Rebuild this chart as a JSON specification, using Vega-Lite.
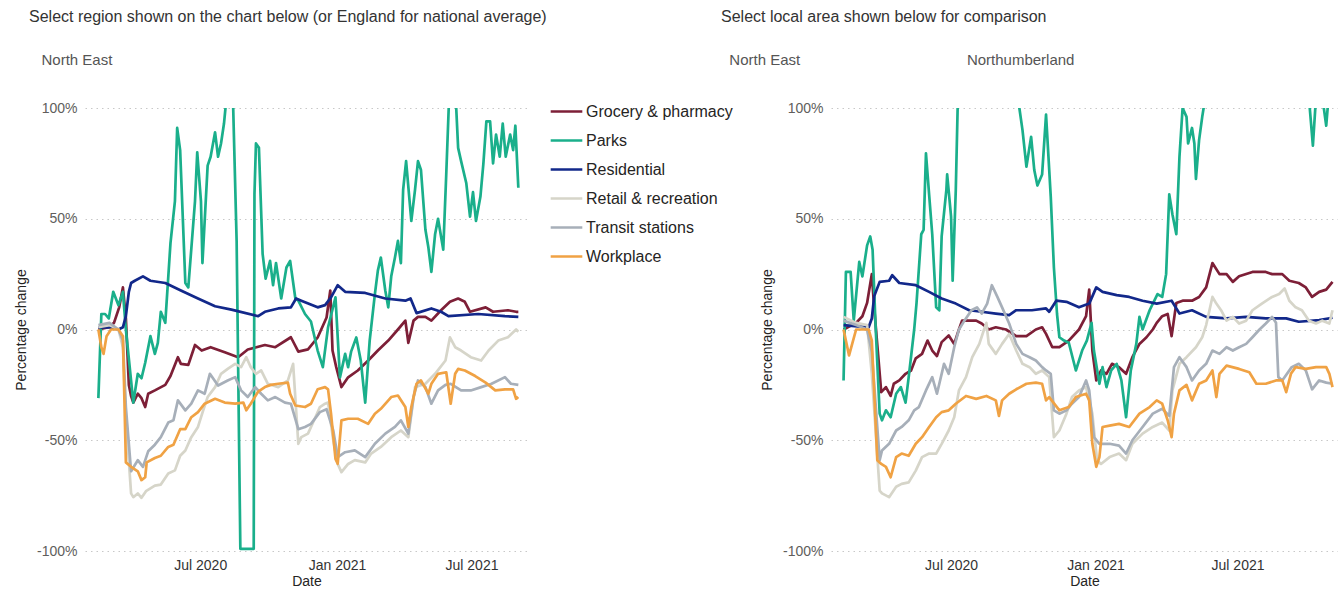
{
  "$schema": "https://vega.github.io/schema/vega-lite/v6.json",
  "background": "white",
  "padding": {"left": 14, "top": 9, "right": 0, "bottom": 0},
  "spacing": -12,
  "config": {
    "font": "Liberation Sans",
    "view": {"stroke": null},
    "axis": {"domain": false, "ticks": false, "labelFont": "Liberation Sans", "labelFontSize": 14, "labelColor": "#605e5c", "titleFont": "Liberation Sans", "titleFontSize": 14, "titleFontWeight": "normal", "titleColor": "#252423"},
    "title": {"font": "Liberation Sans", "fontSize": 16, "fontWeight": "normal", "color": "#333333", "subtitleFont": "Liberation Sans", "subtitleFontSize": 15, "subtitleColor": "#555555", "subtitlePadding": 28, "anchor": "start", "frame": "group"}
  },
  "resolve": {"scale": {"color": "independent"}},
  "datasets": {
    "L": [
      {"date":"2020-02-15","cat":"Grocery & pharmacy","value":0},
      {"date":"2020-02-29","cat":"Grocery & pharmacy","value":1},
      {"date":"2020-03-07","cat":"Grocery & pharmacy","value":3},
      {"date":"2020-03-14","cat":"Grocery & pharmacy","value":10},
      {"date":"2020-03-19","cat":"Grocery & pharmacy","value":19},
      {"date":"2020-03-23","cat":"Grocery & pharmacy","value":5},
      {"date":"2020-03-27","cat":"Grocery & pharmacy","value":-25},
      {"date":"2020-03-30","cat":"Grocery & pharmacy","value":-30},
      {"date":"2020-04-02","cat":"Grocery & pharmacy","value":-33},
      {"date":"2020-04-08","cat":"Grocery & pharmacy","value":-29},
      {"date":"2020-04-13","cat":"Grocery & pharmacy","value":-31},
      {"date":"2020-04-18","cat":"Grocery & pharmacy","value":-35},
      {"date":"2020-04-22","cat":"Grocery & pharmacy","value":-29},
      {"date":"2020-05-01","cat":"Grocery & pharmacy","value":-27.5},
      {"date":"2020-05-15","cat":"Grocery & pharmacy","value":-25},
      {"date":"2020-05-22","cat":"Grocery & pharmacy","value":-21},
      {"date":"2020-06-01","cat":"Grocery & pharmacy","value":-12.5},
      {"date":"2020-06-05","cat":"Grocery & pharmacy","value":-15.5},
      {"date":"2020-06-15","cat":"Grocery & pharmacy","value":-16},
      {"date":"2020-06-24","cat":"Grocery & pharmacy","value":-7},
      {"date":"2020-07-03","cat":"Grocery & pharmacy","value":-9.5},
      {"date":"2020-07-15","cat":"Grocery & pharmacy","value":-8},
      {"date":"2020-08-03","cat":"Grocery & pharmacy","value":-10.3},
      {"date":"2020-08-21","cat":"Grocery & pharmacy","value":-12.5},
      {"date":"2020-09-03","cat":"Grocery & pharmacy","value":-9},
      {"date":"2020-09-26","cat":"Grocery & pharmacy","value":-7},
      {"date":"2020-10-10","cat":"Grocery & pharmacy","value":-8},
      {"date":"2020-10-31","cat":"Grocery & pharmacy","value":-3.5},
      {"date":"2020-11-10","cat":"Grocery & pharmacy","value":-10},
      {"date":"2020-11-23","cat":"Grocery & pharmacy","value":-9},
      {"date":"2020-12-06","cat":"Grocery & pharmacy","value":-3.6},
      {"date":"2020-12-18","cat":"Grocery & pharmacy","value":5.4},
      {"date":"2020-12-23","cat":"Grocery & pharmacy","value":17.6},
      {"date":"2020-12-26","cat":"Grocery & pharmacy","value":-9.5},
      {"date":"2020-12-31","cat":"Grocery & pharmacy","value":-17},
      {"date":"2021-01-07","cat":"Grocery & pharmacy","value":-26},
      {"date":"2021-01-16","cat":"Grocery & pharmacy","value":-21.6},
      {"date":"2021-01-29","cat":"Grocery & pharmacy","value":-18.5},
      {"date":"2021-02-12","cat":"Grocery & pharmacy","value":-14},
      {"date":"2021-02-25","cat":"Grocery & pharmacy","value":-9.5},
      {"date":"2021-03-11","cat":"Grocery & pharmacy","value":-5},
      {"date":"2021-03-24","cat":"Grocery & pharmacy","value":0},
      {"date":"2021-04-03","cat":"Grocery & pharmacy","value":4},
      {"date":"2021-04-07","cat":"Grocery & pharmacy","value":-6},
      {"date":"2021-04-14","cat":"Grocery & pharmacy","value":4},
      {"date":"2021-04-20","cat":"Grocery & pharmacy","value":5.7},
      {"date":"2021-04-30","cat":"Grocery & pharmacy","value":5.7},
      {"date":"2021-05-08","cat":"Grocery & pharmacy","value":4},
      {"date":"2021-05-21","cat":"Grocery & pharmacy","value":8.7},
      {"date":"2021-06-02","cat":"Grocery & pharmacy","value":12.5},
      {"date":"2021-06-13","cat":"Grocery & pharmacy","value":14},
      {"date":"2021-06-22","cat":"Grocery & pharmacy","value":12.5},
      {"date":"2021-06-29","cat":"Grocery & pharmacy","value":8},
      {"date":"2021-07-20","cat":"Grocery & pharmacy","value":10},
      {"date":"2021-07-30","cat":"Grocery & pharmacy","value":8},
      {"date":"2021-08-19","cat":"Grocery & pharmacy","value":8.7},
      {"date":"2021-08-30","cat":"Grocery & pharmacy","value":8},
      {"date":"2021-09-02","cat":"Grocery & pharmacy","value":8},

      {"date":"2020-02-15","cat":"Parks","value":-31},
      {"date":"2020-02-19","cat":"Parks","value":7},
      {"date":"2020-02-24","cat":"Parks","value":7},
      {"date":"2020-02-29","cat":"Parks","value":5},
      {"date":"2020-03-06","cat":"Parks","value":17},
      {"date":"2020-03-13","cat":"Parks","value":11},
      {"date":"2020-03-19","cat":"Parks","value":17},
      {"date":"2020-03-23","cat":"Parks","value":0},
      {"date":"2020-04-02","cat":"Parks","value":-33},
      {"date":"2020-04-08","cat":"Parks","value":-20},
      {"date":"2020-04-13","cat":"Parks","value":-22},
      {"date":"2020-04-18","cat":"Parks","value":-15},
      {"date":"2020-04-25","cat":"Parks","value":-3},
      {"date":"2020-05-01","cat":"Parks","value":-11},
      {"date":"2020-05-05","cat":"Parks","value":-6},
      {"date":"2020-05-09","cat":"Parks","value":8},
      {"date":"2020-05-15","cat":"Parks","value":3},
      {"date":"2020-05-22","cat":"Parks","value":39},
      {"date":"2020-05-28","cat":"Parks","value":58},
      {"date":"2020-05-31","cat":"Parks","value":91},
      {"date":"2020-06-04","cat":"Parks","value":81},
      {"date":"2020-06-11","cat":"Parks","value":21},
      {"date":"2020-06-15","cat":"Parks","value":19},
      {"date":"2020-06-24","cat":"Parks","value":58},
      {"date":"2020-06-27","cat":"Parks","value":80},
      {"date":"2020-07-02","cat":"Parks","value":58},
      {"date":"2020-07-04","cat":"Parks","value":30},
      {"date":"2020-07-11","cat":"Parks","value":74},
      {"date":"2020-07-15","cat":"Parks","value":78},
      {"date":"2020-07-21","cat":"Parks","value":89},
      {"date":"2020-07-25","cat":"Parks","value":78},
      {"date":"2020-07-29","cat":"Parks","value":84},
      {"date":"2020-08-02","cat":"Parks","value":93},
      {"date":"2020-08-04","cat":"Parks","value":100},
      {"date":"2020-08-07","cat":"Parks","value":115},
      {"date":"2020-08-11","cat":"Parks","value":115},
      {"date":"2020-08-14","cat":"Parks","value":105},
      {"date":"2020-08-19","cat":"Parks","value":40},
      {"date":"2020-08-24","cat":"Parks","value":-99},
      {"date":"2020-09-11","cat":"Parks","value":-99},
      {"date":"2020-09-12","cat":"Parks","value":61},
      {"date":"2020-09-14","cat":"Parks","value":84},
      {"date":"2020-09-18","cat":"Parks","value":82},
      {"date":"2020-09-23","cat":"Parks","value":34},
      {"date":"2020-09-27","cat":"Parks","value":23},
      {"date":"2020-10-03","cat":"Parks","value":31},
      {"date":"2020-10-07","cat":"Parks","value":20},
      {"date":"2020-10-11","cat":"Parks","value":30},
      {"date":"2020-10-18","cat":"Parks","value":14},
      {"date":"2020-10-25","cat":"Parks","value":28},
      {"date":"2020-10-30","cat":"Parks","value":31},
      {"date":"2020-11-06","cat":"Parks","value":14},
      {"date":"2020-11-10","cat":"Parks","value":13},
      {"date":"2020-11-19","cat":"Parks","value":7},
      {"date":"2020-11-27","cat":"Parks","value":3.6},
      {"date":"2020-12-06","cat":"Parks","value":-9.5},
      {"date":"2020-12-13","cat":"Parks","value":-17},
      {"date":"2020-12-20","cat":"Parks","value":1},
      {"date":"2020-12-30","cat":"Parks","value":14.5},
      {"date":"2021-01-05","cat":"Parks","value":-21.6},
      {"date":"2021-01-12","cat":"Parks","value":-11},
      {"date":"2021-01-16","cat":"Parks","value":-17},
      {"date":"2021-01-20","cat":"Parks","value":-10},
      {"date":"2021-01-27","cat":"Parks","value":-3.6},
      {"date":"2021-02-02","cat":"Parks","value":-14},
      {"date":"2021-02-08","cat":"Parks","value":-33},
      {"date":"2021-02-14","cat":"Parks","value":-5},
      {"date":"2021-02-21","cat":"Parks","value":16},
      {"date":"2021-02-25","cat":"Parks","value":26.6},
      {"date":"2021-03-01","cat":"Parks","value":32.5},
      {"date":"2021-03-07","cat":"Parks","value":17.6},
      {"date":"2021-03-11","cat":"Parks","value":10},
      {"date":"2021-03-15","cat":"Parks","value":24},
      {"date":"2021-03-20","cat":"Parks","value":32.5},
      {"date":"2021-03-24","cat":"Parks","value":40},
      {"date":"2021-03-28","cat":"Parks","value":30},
      {"date":"2021-03-31","cat":"Parks","value":63},
      {"date":"2021-04-04","cat":"Parks","value":76},
      {"date":"2021-04-11","cat":"Parks","value":49},
      {"date":"2021-04-16","cat":"Parks","value":63},
      {"date":"2021-04-20","cat":"Parks","value":76},
      {"date":"2021-04-24","cat":"Parks","value":72},
      {"date":"2021-04-30","cat":"Parks","value":45},
      {"date":"2021-05-04","cat":"Parks","value":37},
      {"date":"2021-05-08","cat":"Parks","value":26},
      {"date":"2021-05-13","cat":"Parks","value":43},
      {"date":"2021-05-17","cat":"Parks","value":50},
      {"date":"2021-05-24","cat":"Parks","value":36},
      {"date":"2021-05-28","cat":"Parks","value":70},
      {"date":"2021-06-02","cat":"Parks","value":115},
      {"date":"2021-06-09","cat":"Parks","value":110},
      {"date":"2021-06-13","cat":"Parks","value":82},
      {"date":"2021-06-17","cat":"Parks","value":76},
      {"date":"2021-06-24","cat":"Parks","value":66},
      {"date":"2021-06-29","cat":"Parks","value":51},
      {"date":"2021-07-03","cat":"Parks","value":62},
      {"date":"2021-07-07","cat":"Parks","value":49},
      {"date":"2021-07-13","cat":"Parks","value":60},
      {"date":"2021-07-17","cat":"Parks","value":75},
      {"date":"2021-07-21","cat":"Parks","value":94},
      {"date":"2021-07-26","cat":"Parks","value":94},
      {"date":"2021-07-30","cat":"Parks","value":75},
      {"date":"2021-08-03","cat":"Parks","value":88},
      {"date":"2021-08-08","cat":"Parks","value":78},
      {"date":"2021-08-12","cat":"Parks","value":93},
      {"date":"2021-08-16","cat":"Parks","value":78},
      {"date":"2021-08-22","cat":"Parks","value":88},
      {"date":"2021-08-26","cat":"Parks","value":81},
      {"date":"2021-08-29","cat":"Parks","value":92},
      {"date":"2021-09-02","cat":"Parks","value":64},

      {"date":"2020-02-15","cat":"Residential","value":1},
      {"date":"2020-02-29","cat":"Residential","value":1},
      {"date":"2020-03-13","cat":"Residential","value":0},
      {"date":"2020-03-19","cat":"Residential","value":1},
      {"date":"2020-03-23","cat":"Residential","value":6},
      {"date":"2020-03-27","cat":"Residential","value":17},
      {"date":"2020-03-30","cat":"Residential","value":21},
      {"date":"2020-04-04","cat":"Residential","value":22},
      {"date":"2020-04-15","cat":"Residential","value":24},
      {"date":"2020-04-25","cat":"Residential","value":22},
      {"date":"2020-05-15","cat":"Residential","value":21},
      {"date":"2020-06-05","cat":"Residential","value":17.6},
      {"date":"2020-06-28","cat":"Residential","value":14},
      {"date":"2020-07-21","cat":"Residential","value":10.5},
      {"date":"2020-08-12","cat":"Residential","value":9},
      {"date":"2020-09-17","cat":"Residential","value":6},
      {"date":"2020-09-26","cat":"Residential","value":8},
      {"date":"2020-10-14","cat":"Residential","value":9.5},
      {"date":"2020-10-31","cat":"Residential","value":10},
      {"date":"2020-11-07","cat":"Residential","value":14},
      {"date":"2020-11-14","cat":"Residential","value":13},
      {"date":"2020-12-06","cat":"Residential","value":10},
      {"date":"2020-12-16","cat":"Residential","value":11},
      {"date":"2020-12-24","cat":"Residential","value":14.5},
      {"date":"2021-01-02","cat":"Residential","value":20},
      {"date":"2021-01-12","cat":"Residential","value":17},
      {"date":"2021-02-08","cat":"Residential","value":16.5},
      {"date":"2021-03-07","cat":"Residential","value":14},
      {"date":"2021-04-03","cat":"Residential","value":13},
      {"date":"2021-04-10","cat":"Residential","value":14},
      {"date":"2021-04-18","cat":"Residential","value":7.4},
      {"date":"2021-05-08","cat":"Residential","value":9.5},
      {"date":"2021-05-21","cat":"Residential","value":8},
      {"date":"2021-05-31","cat":"Residential","value":6},
      {"date":"2021-07-10","cat":"Residential","value":7},
      {"date":"2021-08-15","cat":"Residential","value":6},
      {"date":"2021-09-02","cat":"Residential","value":5.7},

      {"date":"2020-02-15","cat":"Retail & recreation","value":1},
      {"date":"2020-03-01","cat":"Retail & recreation","value":2},
      {"date":"2020-03-13","cat":"Retail & recreation","value":0},
      {"date":"2020-03-19","cat":"Retail & recreation","value":-8},
      {"date":"2020-03-23","cat":"Retail & recreation","value":-40},
      {"date":"2020-03-30","cat":"Retail & recreation","value":-74},
      {"date":"2020-04-02","cat":"Retail & recreation","value":-75.7},
      {"date":"2020-04-08","cat":"Retail & recreation","value":-74},
      {"date":"2020-04-13","cat":"Retail & recreation","value":-76},
      {"date":"2020-04-19","cat":"Retail & recreation","value":-73},
      {"date":"2020-05-01","cat":"Retail & recreation","value":-70.5},
      {"date":"2020-05-09","cat":"Retail & recreation","value":-70},
      {"date":"2020-05-19","cat":"Retail & recreation","value":-65},
      {"date":"2020-05-28","cat":"Retail & recreation","value":-63.6},
      {"date":"2020-06-04","cat":"Retail & recreation","value":-57},
      {"date":"2020-06-11","cat":"Retail & recreation","value":-54.6},
      {"date":"2020-06-19","cat":"Retail & recreation","value":-48.6},
      {"date":"2020-06-28","cat":"Retail & recreation","value":-44},
      {"date":"2020-07-05","cat":"Retail & recreation","value":-36.5},
      {"date":"2020-07-11","cat":"Retail & recreation","value":-30.5},
      {"date":"2020-07-21","cat":"Retail & recreation","value":-26},
      {"date":"2020-07-29","cat":"Retail & recreation","value":-20},
      {"date":"2020-08-07","cat":"Retail & recreation","value":-17.8},
      {"date":"2020-08-17","cat":"Retail & recreation","value":-15.5},
      {"date":"2020-08-25","cat":"Retail & recreation","value":-17},
      {"date":"2020-09-01","cat":"Retail & recreation","value":-12.5},
      {"date":"2020-09-07","cat":"Retail & recreation","value":-17},
      {"date":"2020-09-14","cat":"Retail & recreation","value":-20},
      {"date":"2020-09-21","cat":"Retail & recreation","value":-18.5},
      {"date":"2020-09-30","cat":"Retail & recreation","value":-24.5},
      {"date":"2020-10-14","cat":"Retail & recreation","value":-26},
      {"date":"2020-10-27","cat":"Retail & recreation","value":-23},
      {"date":"2020-11-03","cat":"Retail & recreation","value":-15.5},
      {"date":"2020-11-10","cat":"Retail & recreation","value":-51.6},
      {"date":"2020-11-14","cat":"Retail & recreation","value":-48.6},
      {"date":"2020-11-23","cat":"Retail & recreation","value":-47},
      {"date":"2020-12-03","cat":"Retail & recreation","value":-39.6},
      {"date":"2020-12-09","cat":"Retail & recreation","value":-35},
      {"date":"2020-12-16","cat":"Retail & recreation","value":-33.5},
      {"date":"2020-12-20","cat":"Retail & recreation","value":-33},
      {"date":"2020-12-27","cat":"Retail & recreation","value":-50},
      {"date":"2021-01-02","cat":"Retail & recreation","value":-60.7},
      {"date":"2021-01-07","cat":"Retail & recreation","value":-64.4},
      {"date":"2021-01-16","cat":"Retail & recreation","value":-60.7},
      {"date":"2021-01-25","cat":"Retail & recreation","value":-59},
      {"date":"2021-02-08","cat":"Retail & recreation","value":-60},
      {"date":"2021-02-16","cat":"Retail & recreation","value":-56},
      {"date":"2021-03-01","cat":"Retail & recreation","value":-53},
      {"date":"2021-03-15","cat":"Retail & recreation","value":-48.6},
      {"date":"2021-03-28","cat":"Retail & recreation","value":-45.6},
      {"date":"2021-04-07","cat":"Retail & recreation","value":-48.6},
      {"date":"2021-04-16","cat":"Retail & recreation","value":-26},
      {"date":"2021-04-30","cat":"Retail & recreation","value":-24.5},
      {"date":"2021-05-13","cat":"Retail & recreation","value":-20},
      {"date":"2021-05-27","cat":"Retail & recreation","value":-14},
      {"date":"2021-06-02","cat":"Retail & recreation","value":-3.5},
      {"date":"2021-06-09","cat":"Retail & recreation","value":-8},
      {"date":"2021-06-17","cat":"Retail & recreation","value":-9.5},
      {"date":"2021-06-30","cat":"Retail & recreation","value":-12.5},
      {"date":"2021-07-14","cat":"Retail & recreation","value":-14},
      {"date":"2021-07-24","cat":"Retail & recreation","value":-9.5},
      {"date":"2021-08-06","cat":"Retail & recreation","value":-5},
      {"date":"2021-08-19","cat":"Retail & recreation","value":-3.5},
      {"date":"2021-08-30","cat":"Retail & recreation","value":0},
      {"date":"2021-09-02","cat":"Retail & recreation","value":-1},

      {"date":"2020-02-15","cat":"Transit stations","value":2},
      {"date":"2020-03-01","cat":"Transit stations","value":3},
      {"date":"2020-03-13","cat":"Transit stations","value":0},
      {"date":"2020-03-19","cat":"Transit stations","value":-5},
      {"date":"2020-03-23","cat":"Transit stations","value":-35},
      {"date":"2020-03-30","cat":"Transit stations","value":-64},
      {"date":"2020-04-08","cat":"Transit stations","value":-59},
      {"date":"2020-04-15","cat":"Transit stations","value":-62},
      {"date":"2020-04-22","cat":"Transit stations","value":-55},
      {"date":"2020-05-01","cat":"Transit stations","value":-52},
      {"date":"2020-05-09","cat":"Transit stations","value":-48.6},
      {"date":"2020-05-19","cat":"Transit stations","value":-42},
      {"date":"2020-05-26","cat":"Transit stations","value":-41},
      {"date":"2020-06-01","cat":"Transit stations","value":-32},
      {"date":"2020-06-11","cat":"Transit stations","value":-36.5},
      {"date":"2020-06-19","cat":"Transit stations","value":-33.5},
      {"date":"2020-06-28","cat":"Transit stations","value":-27.5},
      {"date":"2020-07-07","cat":"Transit stations","value":-29},
      {"date":"2020-07-14","cat":"Transit stations","value":-20},
      {"date":"2020-07-25","cat":"Transit stations","value":-25.3},
      {"date":"2020-08-07","cat":"Transit stations","value":-23},
      {"date":"2020-08-17","cat":"Transit stations","value":-21.5},
      {"date":"2020-08-25","cat":"Transit stations","value":-27.5},
      {"date":"2020-09-03","cat":"Transit stations","value":-30.5},
      {"date":"2020-09-13","cat":"Transit stations","value":-26},
      {"date":"2020-09-21","cat":"Transit stations","value":-29},
      {"date":"2020-09-30","cat":"Transit stations","value":-32},
      {"date":"2020-10-10","cat":"Transit stations","value":-30.5},
      {"date":"2020-10-23","cat":"Transit stations","value":-33},
      {"date":"2020-10-31","cat":"Transit stations","value":-33.5},
      {"date":"2020-11-10","cat":"Transit stations","value":-45},
      {"date":"2020-11-19","cat":"Transit stations","value":-44},
      {"date":"2020-11-27","cat":"Transit stations","value":-42.6},
      {"date":"2020-12-09","cat":"Transit stations","value":-37.3},
      {"date":"2020-12-18","cat":"Transit stations","value":-36},
      {"date":"2020-12-27","cat":"Transit stations","value":-45.6},
      {"date":"2021-01-02","cat":"Transit stations","value":-57.6},
      {"date":"2021-01-12","cat":"Transit stations","value":-55.4},
      {"date":"2021-01-25","cat":"Transit stations","value":-54.6},
      {"date":"2021-02-08","cat":"Transit stations","value":-57.6},
      {"date":"2021-02-21","cat":"Transit stations","value":-51.6},
      {"date":"2021-03-07","cat":"Transit stations","value":-47},
      {"date":"2021-03-20","cat":"Transit stations","value":-44},
      {"date":"2021-03-28","cat":"Transit stations","value":-41},
      {"date":"2021-04-07","cat":"Transit stations","value":-47},
      {"date":"2021-04-14","cat":"Transit stations","value":-30.5},
      {"date":"2021-04-20","cat":"Transit stations","value":-23},
      {"date":"2021-04-30","cat":"Transit stations","value":-26},
      {"date":"2021-05-08","cat":"Transit stations","value":-33.5},
      {"date":"2021-05-17","cat":"Transit stations","value":-27.5},
      {"date":"2021-05-27","cat":"Transit stations","value":-25},
      {"date":"2021-06-03","cat":"Transit stations","value":-24.5},
      {"date":"2021-06-17","cat":"Transit stations","value":-27.5},
      {"date":"2021-06-30","cat":"Transit stations","value":-27.5},
      {"date":"2021-07-14","cat":"Transit stations","value":-26},
      {"date":"2021-07-28","cat":"Transit stations","value":-24.5},
      {"date":"2021-08-15","cat":"Transit stations","value":-21.5},
      {"date":"2021-08-23","cat":"Transit stations","value":-24.5},
      {"date":"2021-09-02","cat":"Transit stations","value":-25},

      {"date":"2020-02-15","cat":"Workplace","value":0},
      {"date":"2020-02-19","cat":"Workplace","value":-8},
      {"date":"2020-02-22","cat":"Workplace","value":-11},
      {"date":"2020-02-26","cat":"Workplace","value":-3},
      {"date":"2020-03-03","cat":"Workplace","value":0},
      {"date":"2020-03-13","cat":"Workplace","value":0},
      {"date":"2020-03-19","cat":"Workplace","value":-3},
      {"date":"2020-03-23","cat":"Workplace","value":-60},
      {"date":"2020-03-30","cat":"Workplace","value":-62},
      {"date":"2020-04-08","cat":"Workplace","value":-64},
      {"date":"2020-04-13","cat":"Workplace","value":-68},
      {"date":"2020-04-18","cat":"Workplace","value":-66.7},
      {"date":"2020-04-20","cat":"Workplace","value":-60},
      {"date":"2020-05-01","cat":"Workplace","value":-58},
      {"date":"2020-05-09","cat":"Workplace","value":-57},
      {"date":"2020-05-19","cat":"Workplace","value":-53},
      {"date":"2020-05-26","cat":"Workplace","value":-52},
      {"date":"2020-06-04","cat":"Workplace","value":-45},
      {"date":"2020-06-11","cat":"Workplace","value":-45},
      {"date":"2020-06-19","cat":"Workplace","value":-39.6},
      {"date":"2020-06-28","cat":"Workplace","value":-37.3},
      {"date":"2020-07-07","cat":"Workplace","value":-33.5},
      {"date":"2020-07-21","cat":"Workplace","value":-31.3},
      {"date":"2020-08-03","cat":"Workplace","value":-33},
      {"date":"2020-08-17","cat":"Workplace","value":-33.5},
      {"date":"2020-08-28","cat":"Workplace","value":-33},
      {"date":"2020-09-01","cat":"Workplace","value":-36.5},
      {"date":"2020-09-07","cat":"Workplace","value":-33.5},
      {"date":"2020-09-17","cat":"Workplace","value":-28},
      {"date":"2020-09-26","cat":"Workplace","value":-26},
      {"date":"2020-10-04","cat":"Workplace","value":-25},
      {"date":"2020-10-14","cat":"Workplace","value":-24.5},
      {"date":"2020-10-27","cat":"Workplace","value":-24},
      {"date":"2020-10-30","cat":"Workplace","value":-29},
      {"date":"2020-11-06","cat":"Workplace","value":-34.3},
      {"date":"2020-11-19","cat":"Workplace","value":-35},
      {"date":"2020-11-27","cat":"Workplace","value":-33.5},
      {"date":"2020-12-06","cat":"Workplace","value":-27},
      {"date":"2020-12-16","cat":"Workplace","value":-26},
      {"date":"2020-12-20","cat":"Workplace","value":-27},
      {"date":"2020-12-24","cat":"Workplace","value":-38},
      {"date":"2020-12-30","cat":"Workplace","value":-58.4},
      {"date":"2021-01-02","cat":"Workplace","value":-60.6},
      {"date":"2021-01-07","cat":"Workplace","value":-41},
      {"date":"2021-01-16","cat":"Workplace","value":-40.3},
      {"date":"2021-01-29","cat":"Workplace","value":-40.3},
      {"date":"2021-02-12","cat":"Workplace","value":-42.6},
      {"date":"2021-02-21","cat":"Workplace","value":-38},
      {"date":"2021-03-01","cat":"Workplace","value":-35.8},
      {"date":"2021-03-15","cat":"Workplace","value":-30.5},
      {"date":"2021-03-24","cat":"Workplace","value":-29.8},
      {"date":"2021-04-03","cat":"Workplace","value":-35},
      {"date":"2021-04-07","cat":"Workplace","value":-44},
      {"date":"2021-04-11","cat":"Workplace","value":-35},
      {"date":"2021-04-18","cat":"Workplace","value":-24.5},
      {"date":"2021-04-24","cat":"Workplace","value":-23},
      {"date":"2021-05-04","cat":"Workplace","value":-29},
      {"date":"2021-05-08","cat":"Workplace","value":-24.5},
      {"date":"2021-05-17","cat":"Workplace","value":-20},
      {"date":"2021-05-28","cat":"Workplace","value":-19.3},
      {"date":"2021-06-03","cat":"Workplace","value":-33.5},
      {"date":"2021-06-09","cat":"Workplace","value":-20},
      {"date":"2021-06-13","cat":"Workplace","value":-17.8},
      {"date":"2021-06-22","cat":"Workplace","value":-18.5},
      {"date":"2021-07-06","cat":"Workplace","value":-21},
      {"date":"2021-07-20","cat":"Workplace","value":-24},
      {"date":"2021-08-02","cat":"Workplace","value":-27.5},
      {"date":"2021-08-15","cat":"Workplace","value":-27},
      {"date":"2021-08-26","cat":"Workplace","value":-27},
      {"date":"2021-08-30","cat":"Workplace","value":-31.3},
      {"date":"2021-09-02","cat":"Workplace","value":-30.5}
    ],
    "R": [
      {"date":"2020-02-15","cat":"Grocery & pharmacy","value":0},
      {"date":"2020-03-02","cat":"Grocery & pharmacy","value":3},
      {"date":"2020-03-10","cat":"Grocery & pharmacy","value":6},
      {"date":"2020-03-16","cat":"Grocery & pharmacy","value":12},
      {"date":"2020-03-22","cat":"Grocery & pharmacy","value":25},
      {"date":"2020-03-25","cat":"Grocery & pharmacy","value":10},
      {"date":"2020-04-03","cat":"Grocery & pharmacy","value":-28.3},
      {"date":"2020-04-09","cat":"Grocery & pharmacy","value":-26},
      {"date":"2020-04-15","cat":"Grocery & pharmacy","value":-30},
      {"date":"2020-04-19","cat":"Grocery & pharmacy","value":-24.5},
      {"date":"2020-04-26","cat":"Grocery & pharmacy","value":-23},
      {"date":"2020-05-04","cat":"Grocery & pharmacy","value":-20},
      {"date":"2020-05-11","cat":"Grocery & pharmacy","value":-18.5},
      {"date":"2020-05-17","cat":"Grocery & pharmacy","value":-13},
      {"date":"2020-05-25","cat":"Grocery & pharmacy","value":-11},
      {"date":"2020-06-01","cat":"Grocery & pharmacy","value":-5},
      {"date":"2020-06-07","cat":"Grocery & pharmacy","value":-9.5},
      {"date":"2020-06-13","cat":"Grocery & pharmacy","value":-12},
      {"date":"2020-06-19","cat":"Grocery & pharmacy","value":-5.7},
      {"date":"2020-06-28","cat":"Grocery & pharmacy","value":-2.7},
      {"date":"2020-07-05","cat":"Grocery & pharmacy","value":-6.5},
      {"date":"2020-07-11","cat":"Grocery & pharmacy","value":0},
      {"date":"2020-07-15","cat":"Grocery & pharmacy","value":4},
      {"date":"2020-08-02","cat":"Grocery & pharmacy","value":4},
      {"date":"2020-08-09","cat":"Grocery & pharmacy","value":2.7},
      {"date":"2020-08-18","cat":"Grocery & pharmacy","value":0},
      {"date":"2020-08-27","cat":"Grocery & pharmacy","value":1},
      {"date":"2020-09-09","cat":"Grocery & pharmacy","value":0},
      {"date":"2020-09-22","cat":"Grocery & pharmacy","value":-3},
      {"date":"2020-10-05","cat":"Grocery & pharmacy","value":-3},
      {"date":"2020-10-17","cat":"Grocery & pharmacy","value":0},
      {"date":"2020-10-25","cat":"Grocery & pharmacy","value":1},
      {"date":"2020-10-30","cat":"Grocery & pharmacy","value":-2},
      {"date":"2020-11-07","cat":"Grocery & pharmacy","value":-8},
      {"date":"2020-11-16","cat":"Grocery & pharmacy","value":-8},
      {"date":"2020-11-28","cat":"Grocery & pharmacy","value":-5},
      {"date":"2020-12-11","cat":"Grocery & pharmacy","value":0},
      {"date":"2020-12-20","cat":"Grocery & pharmacy","value":6},
      {"date":"2020-12-24","cat":"Grocery & pharmacy","value":18},
      {"date":"2020-12-28","cat":"Grocery & pharmacy","value":-9.5},
      {"date":"2021-01-02","cat":"Grocery & pharmacy","value":-23},
      {"date":"2021-01-08","cat":"Grocery & pharmacy","value":-18.5},
      {"date":"2021-01-15","cat":"Grocery & pharmacy","value":-20},
      {"date":"2021-01-22","cat":"Grocery & pharmacy","value":-15.5},
      {"date":"2021-01-31","cat":"Grocery & pharmacy","value":-17},
      {"date":"2021-02-09","cat":"Grocery & pharmacy","value":-20},
      {"date":"2021-02-17","cat":"Grocery & pharmacy","value":-12.5},
      {"date":"2021-02-26","cat":"Grocery & pharmacy","value":-6.5},
      {"date":"2021-03-07","cat":"Grocery & pharmacy","value":-3.5},
      {"date":"2021-03-15","cat":"Grocery & pharmacy","value":0},
      {"date":"2021-03-20","cat":"Grocery & pharmacy","value":3},
      {"date":"2021-03-27","cat":"Grocery & pharmacy","value":6},
      {"date":"2021-04-03","cat":"Grocery & pharmacy","value":7},
      {"date":"2021-04-08","cat":"Grocery & pharmacy","value":-3},
      {"date":"2021-04-14","cat":"Grocery & pharmacy","value":12},
      {"date":"2021-04-22","cat":"Grocery & pharmacy","value":13},
      {"date":"2021-05-04","cat":"Grocery & pharmacy","value":13},
      {"date":"2021-05-13","cat":"Grocery & pharmacy","value":14.7},
      {"date":"2021-05-22","cat":"Grocery & pharmacy","value":19},
      {"date":"2021-05-30","cat":"Grocery & pharmacy","value":30},
      {"date":"2021-06-08","cat":"Grocery & pharmacy","value":25},
      {"date":"2021-06-17","cat":"Grocery & pharmacy","value":25},
      {"date":"2021-06-25","cat":"Grocery & pharmacy","value":21.5},
      {"date":"2021-07-03","cat":"Grocery & pharmacy","value":24},
      {"date":"2021-07-20","cat":"Grocery & pharmacy","value":26},
      {"date":"2021-08-06","cat":"Grocery & pharmacy","value":26},
      {"date":"2021-08-14","cat":"Grocery & pharmacy","value":25},
      {"date":"2021-08-27","cat":"Grocery & pharmacy","value":25},
      {"date":"2021-09-05","cat":"Grocery & pharmacy","value":22},
      {"date":"2021-09-17","cat":"Grocery & pharmacy","value":21},
      {"date":"2021-09-26","cat":"Grocery & pharmacy","value":19},
      {"date":"2021-10-04","cat":"Grocery & pharmacy","value":14.7},
      {"date":"2021-10-13","cat":"Grocery & pharmacy","value":17},
      {"date":"2021-10-22","cat":"Grocery & pharmacy","value":18},
      {"date":"2021-10-30","cat":"Grocery & pharmacy","value":21.5},

      {"date":"2020-02-15","cat":"Parks","value":-23},
      {"date":"2020-02-18","cat":"Parks","value":26},
      {"date":"2020-02-24","cat":"Parks","value":26},
      {"date":"2020-02-28","cat":"Parks","value":4},
      {"date":"2020-03-06","cat":"Parks","value":30.5},
      {"date":"2020-03-10","cat":"Parks","value":24},
      {"date":"2020-03-16","cat":"Parks","value":38},
      {"date":"2020-03-20","cat":"Parks","value":42},
      {"date":"2020-03-23","cat":"Parks","value":36},
      {"date":"2020-03-27","cat":"Parks","value":0},
      {"date":"2020-04-01","cat":"Parks","value":-38},
      {"date":"2020-04-04","cat":"Parks","value":-41},
      {"date":"2020-04-09","cat":"Parks","value":-36.5},
      {"date":"2020-04-15","cat":"Parks","value":-39.6},
      {"date":"2020-04-22","cat":"Parks","value":-29},
      {"date":"2020-04-28","cat":"Parks","value":-26},
      {"date":"2020-05-04","cat":"Parks","value":-33},
      {"date":"2020-05-08","cat":"Parks","value":-21.5},
      {"date":"2020-05-15","cat":"Parks","value":0},
      {"date":"2020-05-18","cat":"Parks","value":12},
      {"date":"2020-05-24","cat":"Parks","value":43},
      {"date":"2020-05-27","cat":"Parks","value":45},
      {"date":"2020-05-30","cat":"Parks","value":79.5},
      {"date":"2020-06-03","cat":"Parks","value":61},
      {"date":"2020-06-07","cat":"Parks","value":43},
      {"date":"2020-06-12","cat":"Parks","value":10},
      {"date":"2020-06-16","cat":"Parks","value":8.7},
      {"date":"2020-06-19","cat":"Parks","value":42},
      {"date":"2020-06-25","cat":"Parks","value":63},
      {"date":"2020-06-26","cat":"Parks","value":70},
      {"date":"2020-07-01","cat":"Parks","value":51},
      {"date":"2020-07-03","cat":"Parks","value":22},
      {"date":"2020-07-07","cat":"Parks","value":63},
      {"date":"2020-07-10","cat":"Parks","value":110},
      {"date":"2020-07-20","cat":"Parks","value":140},
      {"date":"2020-08-15","cat":"Parks","value":150},
      {"date":"2020-09-10","cat":"Parks","value":130},
      {"date":"2020-09-22","cat":"Parks","value":110},
      {"date":"2020-09-26","cat":"Parks","value":100},
      {"date":"2020-09-30","cat":"Parks","value":90},
      {"date":"2020-10-05","cat":"Parks","value":73.5},
      {"date":"2020-10-11","cat":"Parks","value":87},
      {"date":"2020-10-15","cat":"Parks","value":72},
      {"date":"2020-10-19","cat":"Parks","value":65},
      {"date":"2020-10-25","cat":"Parks","value":70},
      {"date":"2020-10-30","cat":"Parks","value":97},
      {"date":"2020-11-05","cat":"Parks","value":60},
      {"date":"2020-11-09","cat":"Parks","value":28},
      {"date":"2020-11-13","cat":"Parks","value":7},
      {"date":"2020-11-16","cat":"Parks","value":-3.5},
      {"date":"2020-11-22","cat":"Parks","value":-5},
      {"date":"2020-11-28","cat":"Parks","value":-6},
      {"date":"2020-12-07","cat":"Parks","value":-18.5},
      {"date":"2020-12-15","cat":"Parks","value":-9.5},
      {"date":"2020-12-21","cat":"Parks","value":-5},
      {"date":"2020-12-27","cat":"Parks","value":3},
      {"date":"2020-12-30","cat":"Parks","value":-9.5},
      {"date":"2021-01-06","cat":"Parks","value":-24.5},
      {"date":"2021-01-10","cat":"Parks","value":-17},
      {"date":"2021-01-15","cat":"Parks","value":-26},
      {"date":"2021-01-21","cat":"Parks","value":-18.5},
      {"date":"2021-01-28","cat":"Parks","value":-15.5},
      {"date":"2021-02-03","cat":"Parks","value":-23},
      {"date":"2021-02-09","cat":"Parks","value":-39.6},
      {"date":"2021-02-15","cat":"Parks","value":-18.5},
      {"date":"2021-02-22","cat":"Parks","value":-6.5},
      {"date":"2021-02-26","cat":"Parks","value":5.7},
      {"date":"2021-03-02","cat":"Parks","value":0},
      {"date":"2021-03-11","cat":"Parks","value":8.7},
      {"date":"2021-03-21","cat":"Parks","value":16},
      {"date":"2021-03-27","cat":"Parks","value":14.7},
      {"date":"2021-04-01","cat":"Parks","value":25},
      {"date":"2021-04-05","cat":"Parks","value":61},
      {"date":"2021-04-09","cat":"Parks","value":52},
      {"date":"2021-04-14","cat":"Parks","value":43},
      {"date":"2021-04-18","cat":"Parks","value":78},
      {"date":"2021-04-22","cat":"Parks","value":100},
      {"date":"2021-04-27","cat":"Parks","value":96},
      {"date":"2021-04-29","cat":"Parks","value":84},
      {"date":"2021-05-04","cat":"Parks","value":91},
      {"date":"2021-05-07","cat":"Parks","value":84},
      {"date":"2021-05-09","cat":"Parks","value":68},
      {"date":"2021-05-13","cat":"Parks","value":85.5},
      {"date":"2021-05-17","cat":"Parks","value":96},
      {"date":"2021-05-21","cat":"Parks","value":105},
      {"date":"2021-06-15","cat":"Parks","value":150},
      {"date":"2021-08-01","cat":"Parks","value":160},
      {"date":"2021-09-10","cat":"Parks","value":130},
      {"date":"2021-09-30","cat":"Parks","value":105},
      {"date":"2021-10-01","cat":"Parks","value":100},
      {"date":"2021-10-05","cat":"Parks","value":83},
      {"date":"2021-10-09","cat":"Parks","value":105},
      {"date":"2021-10-17","cat":"Parks","value":105},
      {"date":"2021-10-22","cat":"Parks","value":92},
      {"date":"2021-10-25","cat":"Parks","value":105},
      {"date":"2021-10-30","cat":"Parks","value":115},

      {"date":"2020-02-15","cat":"Residential","value":2},
      {"date":"2020-03-18","cat":"Residential","value":1},
      {"date":"2020-03-22","cat":"Residential","value":5},
      {"date":"2020-03-25","cat":"Residential","value":15},
      {"date":"2020-04-01","cat":"Residential","value":21.5},
      {"date":"2020-04-13","cat":"Residential","value":22},
      {"date":"2020-04-17","cat":"Residential","value":24.5},
      {"date":"2020-04-26","cat":"Residential","value":21},
      {"date":"2020-05-17","cat":"Residential","value":20},
      {"date":"2020-06-03","cat":"Residential","value":17},
      {"date":"2020-06-19","cat":"Residential","value":14},
      {"date":"2020-07-07","cat":"Residential","value":11.7},
      {"date":"2020-07-24","cat":"Residential","value":8.7},
      {"date":"2020-08-09","cat":"Residential","value":8},
      {"date":"2020-08-27","cat":"Residential","value":7.2},
      {"date":"2020-09-13","cat":"Residential","value":6.5},
      {"date":"2020-09-22","cat":"Residential","value":8.7},
      {"date":"2020-10-12","cat":"Residential","value":8.7},
      {"date":"2020-10-30","cat":"Residential","value":9.5},
      {"date":"2020-11-03","cat":"Residential","value":8},
      {"date":"2020-11-12","cat":"Residential","value":13},
      {"date":"2020-11-25","cat":"Residential","value":12.5},
      {"date":"2020-12-11","cat":"Residential","value":10},
      {"date":"2020-12-24","cat":"Residential","value":11.7},
      {"date":"2021-01-02","cat":"Residential","value":19},
      {"date":"2021-01-10","cat":"Residential","value":17},
      {"date":"2021-01-28","cat":"Residential","value":15.5},
      {"date":"2021-02-13","cat":"Residential","value":14.7},
      {"date":"2021-03-02","cat":"Residential","value":13},
      {"date":"2021-03-20","cat":"Residential","value":11.7},
      {"date":"2021-04-08","cat":"Residential","value":13},
      {"date":"2021-04-18","cat":"Residential","value":7.2},
      {"date":"2021-05-04","cat":"Residential","value":8.7},
      {"date":"2021-05-22","cat":"Residential","value":5.7},
      {"date":"2021-06-17","cat":"Residential","value":5},
      {"date":"2021-07-12","cat":"Residential","value":5.7},
      {"date":"2021-08-06","cat":"Residential","value":5},
      {"date":"2021-09-01","cat":"Residential","value":5},
      {"date":"2021-09-17","cat":"Residential","value":3.5},
      {"date":"2021-10-13","cat":"Residential","value":4.2},
      {"date":"2021-10-30","cat":"Residential","value":5.3},

      {"date":"2020-02-15","cat":"Retail & recreation","value":5.7},
      {"date":"2020-03-02","cat":"Retail & recreation","value":3},
      {"date":"2020-03-16","cat":"Retail & recreation","value":2},
      {"date":"2020-03-22","cat":"Retail & recreation","value":-20},
      {"date":"2020-04-01","cat":"Retail & recreation","value":-72.7},
      {"date":"2020-04-04","cat":"Retail & recreation","value":-74},
      {"date":"2020-04-13","cat":"Retail & recreation","value":-75.7},
      {"date":"2020-04-22","cat":"Retail & recreation","value":-71},
      {"date":"2020-04-29","cat":"Retail & recreation","value":-69.7},
      {"date":"2020-05-08","cat":"Retail & recreation","value":-69},
      {"date":"2020-05-17","cat":"Retail & recreation","value":-63.7},
      {"date":"2020-05-25","cat":"Retail & recreation","value":-57.6},
      {"date":"2020-06-03","cat":"Retail & recreation","value":-56},
      {"date":"2020-06-12","cat":"Retail & recreation","value":-56},
      {"date":"2020-06-19","cat":"Retail & recreation","value":-51.6},
      {"date":"2020-06-28","cat":"Retail & recreation","value":-45.6},
      {"date":"2020-07-05","cat":"Retail & recreation","value":-39.6},
      {"date":"2020-07-11","cat":"Retail & recreation","value":-27.5},
      {"date":"2020-07-20","cat":"Retail & recreation","value":-21.5},
      {"date":"2020-07-28","cat":"Retail & recreation","value":-12.5},
      {"date":"2020-08-06","cat":"Retail & recreation","value":-6.5},
      {"date":"2020-08-12","cat":"Retail & recreation","value":0},
      {"date":"2020-08-15","cat":"Retail & recreation","value":3},
      {"date":"2020-08-18","cat":"Retail & recreation","value":-6.5},
      {"date":"2020-08-27","cat":"Retail & recreation","value":-11},
      {"date":"2020-09-04","cat":"Retail & recreation","value":-6.5},
      {"date":"2020-09-13","cat":"Retail & recreation","value":-2},
      {"date":"2020-09-22","cat":"Retail & recreation","value":-9.5},
      {"date":"2020-09-30","cat":"Retail & recreation","value":-15.5},
      {"date":"2020-10-09","cat":"Retail & recreation","value":-17},
      {"date":"2020-10-17","cat":"Retail & recreation","value":-20},
      {"date":"2020-10-25","cat":"Retail & recreation","value":-18.5},
      {"date":"2020-11-03","cat":"Retail & recreation","value":-21.5},
      {"date":"2020-11-09","cat":"Retail & recreation","value":-48.6},
      {"date":"2020-11-16","cat":"Retail & recreation","value":-45.6},
      {"date":"2020-11-25","cat":"Retail & recreation","value":-38},
      {"date":"2020-12-02","cat":"Retail & recreation","value":-30.5},
      {"date":"2020-12-11","cat":"Retail & recreation","value":-27.5},
      {"date":"2020-12-20","cat":"Retail & recreation","value":-26},
      {"date":"2020-12-28","cat":"Retail & recreation","value":-38},
      {"date":"2021-01-03","cat":"Retail & recreation","value":-59},
      {"date":"2021-01-08","cat":"Retail & recreation","value":-60.7},
      {"date":"2021-01-19","cat":"Retail & recreation","value":-57.6},
      {"date":"2021-01-31","cat":"Retail & recreation","value":-56},
      {"date":"2021-02-09","cat":"Retail & recreation","value":-59},
      {"date":"2021-02-17","cat":"Retail & recreation","value":-51.6},
      {"date":"2021-03-02","cat":"Retail & recreation","value":-47},
      {"date":"2021-03-15","cat":"Retail & recreation","value":-44},
      {"date":"2021-03-27","cat":"Retail & recreation","value":-42},
      {"date":"2021-04-05","cat":"Retail & recreation","value":-45.6},
      {"date":"2021-04-09","cat":"Retail & recreation","value":-27.5},
      {"date":"2021-04-18","cat":"Retail & recreation","value":-15.5},
      {"date":"2021-04-27","cat":"Retail & recreation","value":-12.5},
      {"date":"2021-05-09","cat":"Retail & recreation","value":-8},
      {"date":"2021-05-17","cat":"Retail & recreation","value":-3.5},
      {"date":"2021-05-22","cat":"Retail & recreation","value":2},
      {"date":"2021-05-30","cat":"Retail & recreation","value":14.7},
      {"date":"2021-06-04","cat":"Retail & recreation","value":11.7},
      {"date":"2021-06-10","cat":"Retail & recreation","value":8.7},
      {"date":"2021-06-17","cat":"Retail & recreation","value":4},
      {"date":"2021-06-25","cat":"Retail & recreation","value":5.7},
      {"date":"2021-07-03","cat":"Retail & recreation","value":2.7},
      {"date":"2021-07-12","cat":"Retail & recreation","value":4},
      {"date":"2021-07-20","cat":"Retail & recreation","value":8.7},
      {"date":"2021-08-01","cat":"Retail & recreation","value":11.7},
      {"date":"2021-08-14","cat":"Retail & recreation","value":14.7},
      {"date":"2021-08-23","cat":"Retail & recreation","value":16},
      {"date":"2021-08-30","cat":"Retail & recreation","value":18.5},
      {"date":"2021-09-05","cat":"Retail & recreation","value":13},
      {"date":"2021-09-13","cat":"Retail & recreation","value":10},
      {"date":"2021-09-21","cat":"Retail & recreation","value":8.7},
      {"date":"2021-09-30","cat":"Retail & recreation","value":4},
      {"date":"2021-10-09","cat":"Retail & recreation","value":2.7},
      {"date":"2021-10-17","cat":"Retail & recreation","value":4},
      {"date":"2021-10-26","cat":"Retail & recreation","value":2.7},
      {"date":"2021-10-30","cat":"Retail & recreation","value":8.7},

      {"date":"2020-02-15","cat":"Transit stations","value":4},
      {"date":"2020-03-02","cat":"Transit stations","value":2},
      {"date":"2020-03-16","cat":"Transit stations","value":0},
      {"date":"2020-03-22","cat":"Transit stations","value":-10},
      {"date":"2020-04-01","cat":"Transit stations","value":-59},
      {"date":"2020-04-04","cat":"Transit stations","value":-54.6},
      {"date":"2020-04-13","cat":"Transit stations","value":-51.6},
      {"date":"2020-04-22","cat":"Transit stations","value":-45.6},
      {"date":"2020-04-29","cat":"Transit stations","value":-44},
      {"date":"2020-05-08","cat":"Transit stations","value":-41},
      {"date":"2020-05-15","cat":"Transit stations","value":-36.5},
      {"date":"2020-05-21","cat":"Transit stations","value":-35},
      {"date":"2020-05-30","cat":"Transit stations","value":-27.5},
      {"date":"2020-06-07","cat":"Transit stations","value":-21.5},
      {"date":"2020-06-13","cat":"Transit stations","value":-29},
      {"date":"2020-06-22","cat":"Transit stations","value":-15.5},
      {"date":"2020-06-28","cat":"Transit stations","value":-20},
      {"date":"2020-07-05","cat":"Transit stations","value":-8},
      {"date":"2020-07-11","cat":"Transit stations","value":0},
      {"date":"2020-07-18","cat":"Transit stations","value":4},
      {"date":"2020-07-27","cat":"Transit stations","value":8.7},
      {"date":"2020-08-03","cat":"Transit stations","value":10},
      {"date":"2020-08-09","cat":"Transit stations","value":7.2},
      {"date":"2020-08-16","cat":"Transit stations","value":11.7},
      {"date":"2020-08-22","cat":"Transit stations","value":20},
      {"date":"2020-08-29","cat":"Transit stations","value":14.7},
      {"date":"2020-09-04","cat":"Transit stations","value":10},
      {"date":"2020-09-13","cat":"Transit stations","value":2.7},
      {"date":"2020-09-22","cat":"Transit stations","value":-6.5},
      {"date":"2020-09-30","cat":"Transit stations","value":-11},
      {"date":"2020-10-09","cat":"Transit stations","value":-12.5},
      {"date":"2020-10-17","cat":"Transit stations","value":-14},
      {"date":"2020-10-25","cat":"Transit stations","value":-17},
      {"date":"2020-10-30","cat":"Transit stations","value":-18.5},
      {"date":"2020-11-05","cat":"Transit stations","value":-20},
      {"date":"2020-11-09","cat":"Transit stations","value":-36.5},
      {"date":"2020-11-16","cat":"Transit stations","value":-38},
      {"date":"2020-11-25","cat":"Transit stations","value":-36.5},
      {"date":"2020-12-02","cat":"Transit stations","value":-33.5},
      {"date":"2020-12-11","cat":"Transit stations","value":-30.5},
      {"date":"2020-12-20","cat":"Transit stations","value":-23},
      {"date":"2020-12-24","cat":"Transit stations","value":-27.5},
      {"date":"2020-12-30","cat":"Transit stations","value":-48.6},
      {"date":"2021-01-06","cat":"Transit stations","value":-51.6},
      {"date":"2021-01-19","cat":"Transit stations","value":-51.6},
      {"date":"2021-01-31","cat":"Transit stations","value":-52.4},
      {"date":"2021-02-09","cat":"Transit stations","value":-56},
      {"date":"2021-02-17","cat":"Transit stations","value":-50},
      {"date":"2021-03-02","cat":"Transit stations","value":-44},
      {"date":"2021-03-15","cat":"Transit stations","value":-38},
      {"date":"2021-03-27","cat":"Transit stations","value":-35.8},
      {"date":"2021-04-05","cat":"Transit stations","value":-39},
      {"date":"2021-04-11","cat":"Transit stations","value":-17},
      {"date":"2021-04-18","cat":"Transit stations","value":-12.5},
      {"date":"2021-04-27","cat":"Transit stations","value":-17},
      {"date":"2021-05-04","cat":"Transit stations","value":-23},
      {"date":"2021-05-13","cat":"Transit stations","value":-18.5},
      {"date":"2021-05-22","cat":"Transit stations","value":-15.5},
      {"date":"2021-05-30","cat":"Transit stations","value":-9.5},
      {"date":"2021-06-08","cat":"Transit stations","value":-11},
      {"date":"2021-06-17","cat":"Transit stations","value":-8},
      {"date":"2021-06-25","cat":"Transit stations","value":-9.5},
      {"date":"2021-07-03","cat":"Transit stations","value":-8},
      {"date":"2021-07-12","cat":"Transit stations","value":-6.5},
      {"date":"2021-07-20","cat":"Transit stations","value":-3.5},
      {"date":"2021-07-29","cat":"Transit stations","value":0},
      {"date":"2021-08-06","cat":"Transit stations","value":2.7},
      {"date":"2021-08-14","cat":"Transit stations","value":5.7},
      {"date":"2021-08-19","cat":"Transit stations","value":3},
      {"date":"2021-08-22","cat":"Transit stations","value":-21.5},
      {"date":"2021-08-27","cat":"Transit stations","value":-23},
      {"date":"2021-09-08","cat":"Transit stations","value":-17},
      {"date":"2021-09-17","cat":"Transit stations","value":-15.5},
      {"date":"2021-09-26","cat":"Transit stations","value":-18.5},
      {"date":"2021-10-04","cat":"Transit stations","value":-27},
      {"date":"2021-10-13","cat":"Transit stations","value":-23},
      {"date":"2021-10-22","cat":"Transit stations","value":-24},
      {"date":"2021-10-30","cat":"Transit stations","value":-24.5},

      {"date":"2020-02-15","cat":"Workplace","value":0},
      {"date":"2020-02-22","cat":"Workplace","value":-11.7},
      {"date":"2020-03-02","cat":"Workplace","value":0},
      {"date":"2020-03-18","cat":"Workplace","value":0},
      {"date":"2020-03-22","cat":"Workplace","value":-5},
      {"date":"2020-03-29","cat":"Workplace","value":-59},
      {"date":"2020-04-03","cat":"Workplace","value":-60.7},
      {"date":"2020-04-09","cat":"Workplace","value":-62},
      {"date":"2020-04-15","cat":"Workplace","value":-66.7},
      {"date":"2020-04-22","cat":"Workplace","value":-57.6},
      {"date":"2020-04-29","cat":"Workplace","value":-56},
      {"date":"2020-05-08","cat":"Workplace","value":-57},
      {"date":"2020-05-17","cat":"Workplace","value":-51.6},
      {"date":"2020-05-25","cat":"Workplace","value":-48.6},
      {"date":"2020-06-03","cat":"Workplace","value":-44},
      {"date":"2020-06-12","cat":"Workplace","value":-39.6},
      {"date":"2020-06-19","cat":"Workplace","value":-37.3},
      {"date":"2020-06-28","cat":"Workplace","value":-36.5},
      {"date":"2020-07-07","cat":"Workplace","value":-33.5},
      {"date":"2020-07-20","cat":"Workplace","value":-30},
      {"date":"2020-08-02","cat":"Workplace","value":-31.3},
      {"date":"2020-08-15","cat":"Workplace","value":-30},
      {"date":"2020-08-27","cat":"Workplace","value":-32},
      {"date":"2020-08-31","cat":"Workplace","value":-39},
      {"date":"2020-09-04","cat":"Workplace","value":-32},
      {"date":"2020-09-13","cat":"Workplace","value":-29},
      {"date":"2020-09-22","cat":"Workplace","value":-27},
      {"date":"2020-10-05","cat":"Workplace","value":-24.5},
      {"date":"2020-10-17","cat":"Workplace","value":-24},
      {"date":"2020-10-25","cat":"Workplace","value":-24.5},
      {"date":"2020-10-30","cat":"Workplace","value":-32},
      {"date":"2020-11-03","cat":"Workplace","value":-30.5},
      {"date":"2020-11-16","cat":"Workplace","value":-36.5},
      {"date":"2020-11-28","cat":"Workplace","value":-35},
      {"date":"2020-12-07","cat":"Workplace","value":-30.5},
      {"date":"2020-12-20","cat":"Workplace","value":-29},
      {"date":"2020-12-24","cat":"Workplace","value":-32},
      {"date":"2020-12-28","cat":"Workplace","value":-51.6},
      {"date":"2021-01-02","cat":"Workplace","value":-62},
      {"date":"2021-01-06","cat":"Workplace","value":-57.6},
      {"date":"2021-01-10","cat":"Workplace","value":-44},
      {"date":"2021-01-19","cat":"Workplace","value":-43.4},
      {"date":"2021-01-31","cat":"Workplace","value":-42.6},
      {"date":"2021-02-13","cat":"Workplace","value":-44},
      {"date":"2021-02-26","cat":"Workplace","value":-38},
      {"date":"2021-03-11","cat":"Workplace","value":-35},
      {"date":"2021-03-20","cat":"Workplace","value":-32},
      {"date":"2021-03-27","cat":"Workplace","value":-33.5},
      {"date":"2021-04-03","cat":"Workplace","value":-41},
      {"date":"2021-04-08","cat":"Workplace","value":-48.6},
      {"date":"2021-04-11","cat":"Workplace","value":-38},
      {"date":"2021-04-18","cat":"Workplace","value":-27.5},
      {"date":"2021-04-27","cat":"Workplace","value":-25},
      {"date":"2021-05-04","cat":"Workplace","value":-32},
      {"date":"2021-05-13","cat":"Workplace","value":-24.5},
      {"date":"2021-05-22","cat":"Workplace","value":-23},
      {"date":"2021-05-30","cat":"Workplace","value":-18.5},
      {"date":"2021-06-04","cat":"Workplace","value":-30.5},
      {"date":"2021-06-08","cat":"Workplace","value":-20},
      {"date":"2021-06-17","cat":"Workplace","value":-16.3},
      {"date":"2021-07-03","cat":"Workplace","value":-17.8},
      {"date":"2021-07-16","cat":"Workplace","value":-19.3},
      {"date":"2021-07-25","cat":"Workplace","value":-24.5},
      {"date":"2021-08-06","cat":"Workplace","value":-24.5},
      {"date":"2021-08-19","cat":"Workplace","value":-23},
      {"date":"2021-08-27","cat":"Workplace","value":-23},
      {"date":"2021-09-01","cat":"Workplace","value":-28.3},
      {"date":"2021-09-07","cat":"Workplace","value":-20},
      {"date":"2021-09-13","cat":"Workplace","value":-17},
      {"date":"2021-09-26","cat":"Workplace","value":-17.8},
      {"date":"2021-10-09","cat":"Workplace","value":-17},
      {"date":"2021-10-22","cat":"Workplace","value":-17},
      {"date":"2021-10-26","cat":"Workplace","value":-20},
      {"date":"2021-10-30","cat":"Workplace","value":-26}
    ]
  },
  "hconcat": [
    {
      "title": {"text": "Select region shown on the chart below (or England for national average)", "subtitle": "\u200b\u00a0\u00a0\u00a0North East", "dx": -56, "offset": 26},
      "width": 443,
      "height": 443,
      "data": {"name": "L"},
      "mark": {"type": "line", "strokeWidth": 2.7, "clip": true, "strokeJoin": "round"},
      "encoding": {
        "x": {"field": "date", "type": "temporal", "title": "Date",
          "scale": {"type": "utc", "domain": [{"year": 2020, "month": 1, "date": 28, "utc": true}, {"year": 2021, "month": 9, "date": 15, "utc": true}]},
          "axis": {"grid": false, "format": "%b %Y", "labelPadding": 7, "titlePadding": 2, "labelColor": "#333333",
            "values": [{"year": 2020, "month": 7, "date": 1, "utc": true}, {"year": 2021, "month": 1, "date": 1, "utc": true}, {"year": 2021, "month": 7, "date": 1, "utc": true}]}},
        "y": {"field": "value", "type": "quantitative", "title": "Percentage change",
          "scale": {"domain": [-100, 100], "nice": false, "zero": false},
          "axis": {"values": [-100, -50, 0, 50, 100], "labelExpr": "datum.value + '%'", "labelPadding": 8, "titlePadding": 8, "gridDash": [1.5, 4], "gridColor": "#c8c8c8", "gridWidth": 1}},
        "color": {"field": "cat", "type": "nominal",
          "scale": {"domain": ["Grocery & pharmacy", "Parks", "Residential", "Retail & recreation", "Transit stations", "Workplace"], "range": ["#7d1f37", "#1aaf8b", "#12288a", "#d6d5c9", "#a7afb9", "#f0a244"]},
          "legend": {"title": null, "orient": "none", "legendX": 464, "legendY": -14, "symbolType": "stroke", "symbolSize": 1000, "symbolStrokeWidth": 2.7, "labelFontSize": 16, "labelFont": "Liberation Sans", "labelColor": "#252423", "labelOffset": 2, "rowPadding": 3, "padding": 0, "labelLimit": 300}}
      }
    },
    {
      "title": {"text": "Select local area shown below for comparison", "subtitle": "\u200b\u00a0\u00a0North East\u00a0\u00a0\u00a0\u00a0\u00a0\u00a0\u00a0\u00a0\u00a0\u00a0\u00a0\u00a0\u00a0\u00a0\u00a0\u00a0\u00a0\u00a0\u00a0\u00a0\u00a0\u00a0\u00a0\u00a0\u00a0\u00a0\u00a0\u00a0\u00a0\u00a0\u00a0\u00a0\u00a0\u00a0\u00a0\u00a0\u00a0\u00a0\u00a0\u00a0Northumberland", "dx": -110, "offset": 33},
      "width": 507,
      "height": 443,
      "data": {"name": "R"},
      "mark": {"type": "line", "strokeWidth": 2.7, "clip": true, "strokeJoin": "round"},
      "encoding": {
        "x": {"field": "date", "type": "temporal", "title": "Date",
          "scale": {"type": "utc", "domain": [{"year": 2020, "month": 1, "date": 30, "utc": true}, {"year": 2021, "month": 11, "date": 6, "utc": true}]},
          "axis": {"grid": false, "format": "%b %Y", "labelPadding": 7, "titlePadding": 2, "labelColor": "#333333",
            "values": [{"year": 2020, "month": 7, "date": 1, "utc": true}, {"year": 2021, "month": 1, "date": 1, "utc": true}, {"year": 2021, "month": 7, "date": 1, "utc": true}]}},
        "y": {"field": "value", "type": "quantitative", "title": "Percentage change",
          "scale": {"domain": [-100, 100], "nice": false, "zero": false},
          "axis": {"values": [-100, -50, 0, 50, 100], "labelExpr": "datum.value + '%'", "labelPadding": 8, "titlePadding": 8, "gridDash": [1.5, 4], "gridColor": "#c8c8c8", "gridWidth": 1}},
        "color": {"field": "cat", "type": "nominal",
          "scale": {"domain": ["Grocery & pharmacy", "Parks", "Residential", "Retail & recreation", "Transit stations", "Workplace"], "range": ["#7d1f37", "#1aaf8b", "#12288a", "#d6d5c9", "#a7afb9", "#f0a244"]},
          "legend": null}
      }
    }
  ]
}
